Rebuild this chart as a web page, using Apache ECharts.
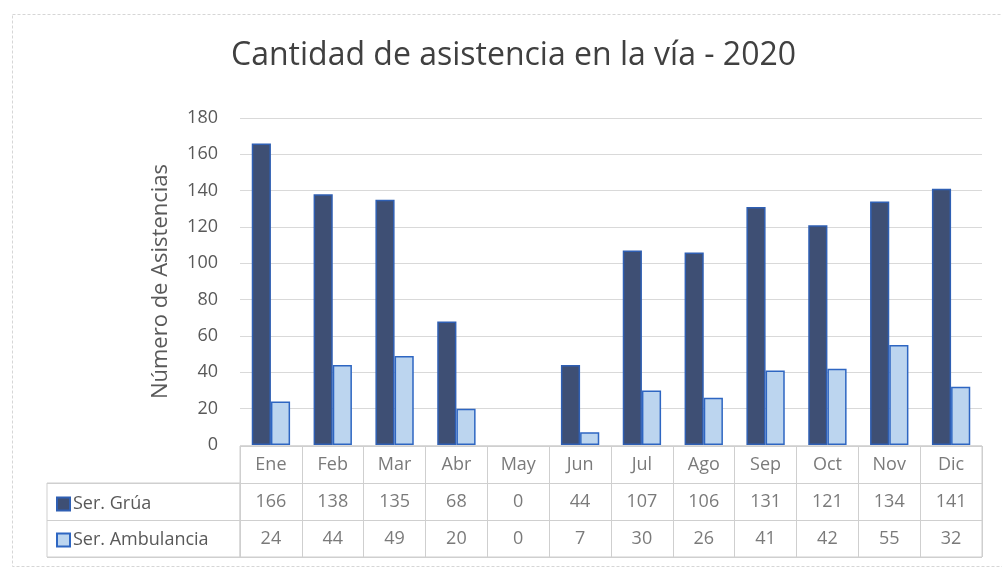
<!DOCTYPE html>
<html>
<head>
    <meta charset="utf-8"/>
    <title>Cantidad de asistencia en la vía - 2020</title>
    <script src="https://cdn.jsdelivr.net/npm/echarts@6.0.0/dist/echarts.min.js"></script>
    <style>
        html, body { margin: 0; padding: 0; background: #fff; }
    </style>
</head>
<body>
<div id="chart" style="width: 1002px;height:585px;"></div>
<script type="text/javascript">
    var meses = ['Ene', 'Feb', 'Mar', 'Abr', 'May', 'Jun', 'Jul', 'Ago', 'Sep', 'Oct', 'Nov', 'Dic'];
    var grua = [166, 138, 135, 68, 0, 44, 107, 106, 131, 121, 134, 141];
    var ambulancia = [24, 44, 49, 20, 0, 7, 30, 26, 41, 42, 55, 32];
    var ticksY = [0, 20, 40, 60, 80, 100, 120, 140, 160, 180];
    var filasTabla = ['mes', 'Ser. Grúa', 'Ser. Ambulancia'];

    var fuente = 'Open Sans';
    var gris = '#595959';
    var linea = '#cfcfcf';

    // celdas de la tabla: [columna, fila, texto]
    var celdas = [];
    meses.forEach(function (m, i) {
        celdas.push([i, 0, m]);
        celdas.push([i, 1, String(grua[i])]);
        celdas.push([i, 2, String(ambulancia[i])]);
    });

    // sin borde en las barras de valor 0 (Excel no dibuja nada)
    function barras(valores) {
        return valores.map(function (v) {
            return v === 0 ? { value: v, itemStyle: { borderWidth: 0 } } : v;
        });
    }

    var option = {
        backgroundColor: '#fff',
        textStyle: { fontFamily: fuente },
        title: {
            text: 'Cantidad de asistencia en la vía - 2020',
            left: 226,
            top: 35,
            textStyle: { fontFamily: fuente, fontSize: 32, fontWeight: 'normal', color: '#404040' }
        },
        legend: {
            data: ['Ser. Grúa', 'Ser. Ambulancia'],
            orient: 'vertical',
            left: 51,
            top: 490,
            itemGap: 18,
            itemWidth: 13,
            itemHeight: 13,
            icon: 'rect',
            textStyle: { fontFamily: fuente, fontSize: 18, color: gris, padding: [0, 0, 0, -2] }
        },
        graphic: [{
            type: 'rect',
            shape: { x: 12.5, y: 14.5, width: 1000, height: 552 },
            style: { fill: null, stroke: '#d6d6d6', lineWidth: 1, lineDash: [3, 2] },
            silent: true
        }],
        grid: [
            { left: 240, right: 20, top: 118, bottom: 140 },
            { left: 240, right: 20, top: 446, bottom: 28, show: true, borderColor: linea, borderWidth: 1 },
            { left: 47, right: 762, top: 483, bottom: 28, show: true, borderColor: linea, borderWidth: 1 }
        ],
        xAxis: [
            {
                type: 'category', gridIndex: 0, data: meses,
                axisLine: { show: false }, axisTick: { show: false }, axisLabel: { show: false }
            },
            {
                type: 'category', gridIndex: 1, data: meses,
                axisLine: { show: false }, axisTick: { show: false }, axisLabel: { show: false },
                splitLine: { show: true, lineStyle: { color: linea } }
            },
            { type: 'value', gridIndex: 2, show: false, min: 0, max: 1 }
        ],
        yAxis: [
            {
                type: 'value', gridIndex: 0, min: 0, max: 180, interval: 20,
                name: 'Número de Asistencias',
                nameLocation: 'middle',
                nameGap: 68,
                nameTextStyle: { fontFamily: fuente, fontSize: 22, color: gris },
                axisLine: { show: false }, axisTick: { show: false },
                axisLabel: {
                    fontFamily: fuente, fontSize: 18, color: gris, margin: 22,
                    formatter: function (v) { return ticksY.indexOf(v) >= 0 ? String(v) : ''; }
                },
                splitLine: { lineStyle: { color: '#d9d9d9' } }
            },
            {
                type: 'category', gridIndex: 1, data: filasTabla, inverse: true,
                axisLine: { show: false }, axisTick: { show: false }, axisLabel: { show: false },
                splitLine: { show: true, lineStyle: { color: linea } }
            },
            {
                type: 'category', gridIndex: 2, data: filasTabla.slice(1), inverse: true,
                axisLine: { show: false }, axisTick: { show: false }, axisLabel: { show: false },
                splitLine: { show: true, lineStyle: { color: linea } }
            }
        ],
        series: [
            {
                name: 'Ser. Grúa',
                type: 'bar',
                xAxisIndex: 0, yAxisIndex: 0,
                data: barras(grua),
                barGap: '0%',
                barCategoryGap: '38%',
                itemStyle: { color: '#3e4f74', borderColor: '#2f5fb3', borderWidth: 1.5 }
            },
            {
                name: 'Ser. Ambulancia',
                type: 'bar',
                xAxisIndex: 0, yAxisIndex: 0,
                data: barras(ambulancia),
                itemStyle: { color: '#bcd5ef', borderColor: '#2e66c2', borderWidth: 1.5 }
            },
            {
                name: 'tabla',
                type: 'scatter',
                xAxisIndex: 1, yAxisIndex: 1,
                symbolSize: 0,
                silent: true,
                data: celdas,
                encode: { x: 0, y: 1 },
                label: {
                    show: true,
                    position: 'inside',
                    fontFamily: fuente,
                    fontSize: 18,
                    color: gris,
                    formatter: function (p) { return p.value[2]; }
                }
            }
        ]
    };

    var chart = echarts.init(document.getElementById('chart'));
    chart.setOption(option);
</script>
</body>
</html>
